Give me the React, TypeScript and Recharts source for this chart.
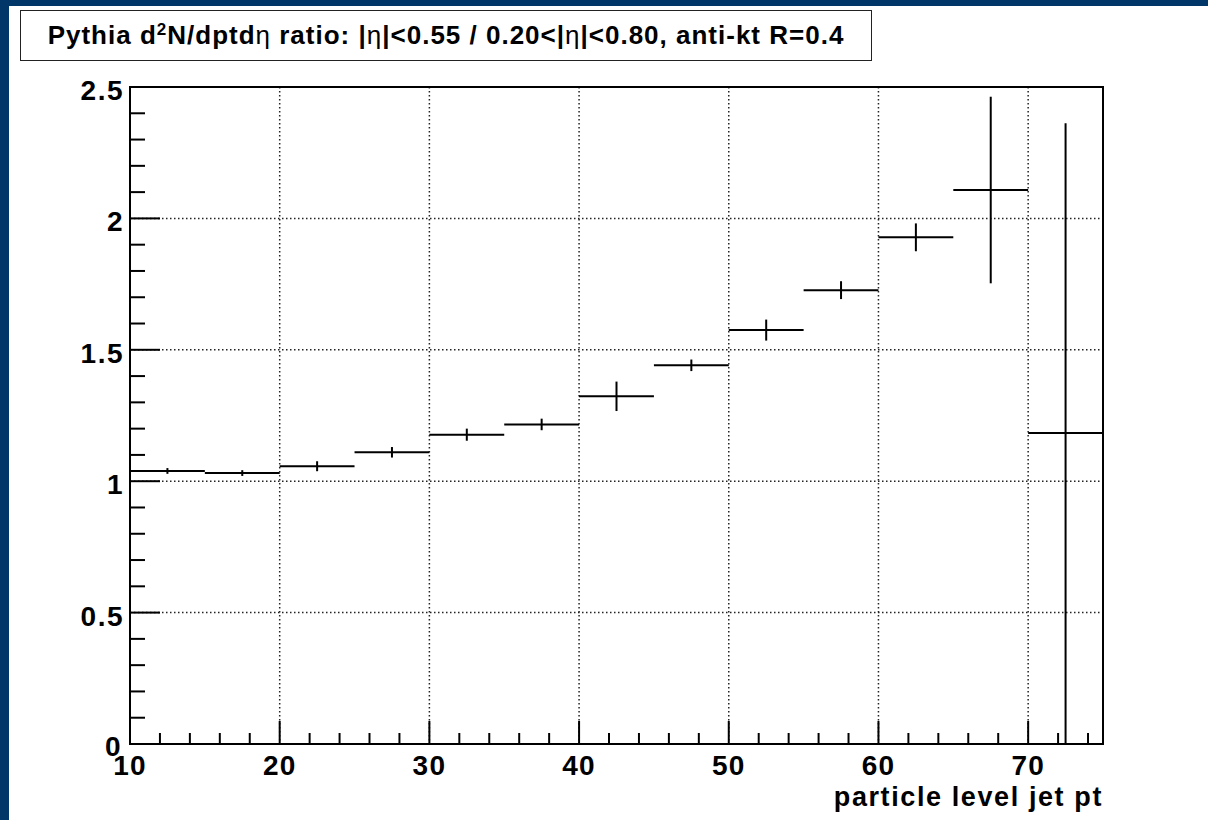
import {
  CartesianGrid,
  ComposedChart,
  ErrorBar,
  ReferenceArea,
  Scatter,
  XAxis,
  YAxis,
} from 'recharts'

// Histogram bin edges in particle level jet pt
const binEdges = [10, 15, 20, 25, 30, 35, 40, 45, 50, 55, 60, 65, 70, 75]
// Ratio per bin and its statistical error
const ratioValues = [
  1.039, 1.031, 1.057, 1.11, 1.177, 1.216, 1.323, 1.441, 1.575, 1.727, 1.928,
  2.108, 1.183,
]
const ratioErrors = [
  0.011, 0.011, 0.019, 0.02, 0.023, 0.022, 0.056, 0.022, 0.04, 0.034, 0.053,
  0.355, 1.179,
]

const xMajorTicks = [10, 20, 30, 40, 50, 60, 70]
const xAllTicks = [
  10, 12, 14, 16, 18, 20, 22, 24, 26, 28, 30, 32, 34, 36, 38, 40, 42, 44, 46,
  48, 50, 52, 54, 56, 58, 60, 62, 64, 66, 68, 70, 72, 74,
]
const yMajorTicks = [0, 0.5, 1, 1.5, 2, 2.5]
const yAllTicks = [
  0, 0.1, 0.2, 0.3, 0.4, 0.5, 0.6, 0.7, 0.8, 0.9, 1, 1.1, 1.2, 1.3, 1.4, 1.5,
  1.6, 1.7, 1.8, 1.9, 2, 2.1, 2.2, 2.3, 2.4, 2.5,
]
const xGridValues = [20, 30, 40, 50, 60, 70]
const yGridValues = [0.5, 1, 1.5, 2]

const points = ratioValues.map((ratio, i) => ({
  pt: (binEdges[i] + binEdges[i + 1]) / 2,
  halfWidth: (binEdges[i + 1] - binEdges[i]) / 2,
  ratio,
  err: ratioErrors[i],
}))

const FONT = '"Liberation Sans", Arial, Helvetica, sans-serif'
const isMajor = (list: number[], v: number) =>
  list.some((m) => Math.abs(m - v) < 1e-6)

function XTick({ x, y, payload }: any) {
  const major = isMajor(xMajorTicks, payload.value)
  return (
    <g>
      <line x1={x} x2={x} y1={y} y2={y - (major ? 23 : 11)} stroke="#000" strokeWidth={2} />
      {major && (
        <text
          x={x}
          y={y + 31}
          textAnchor="middle"
          fontFamily={FONT}
          fontWeight="bold"
          fontSize={28}
          letterSpacing={1.2}
          fill="#000"
        >
          {payload.value}
        </text>
      )}
    </g>
  )
}

function YTick({ x, y, payload }: any) {
  const major = isMajor(yMajorTicks, payload.value)
  // the zero label sits a little lower and to the left, as ROOT draws it
  const isZero = payload.value === 0
  return (
    <g>
      <line x1={x} x2={x + (major ? 30 : 15)} y1={y} y2={y} stroke="#000" strokeWidth={2} />
      {major && (
        <text
          x={x - (isZero ? 8 : 6)}
          y={y + (isZero ? 12 : 13)}
          textAnchor="end"
          fontFamily={FONT}
          fontWeight="bold"
          fontSize={28}
          letterSpacing={1.5}
          fill="#000"
        >
          {payload.value}
        </text>
      )}
    </g>
  )
}

export default function App() {
  return (
    <div
      style={{
        position: 'absolute',
        left: 0,
        top: 0,
        width: 1208,
        height: 820,
        background: '#003768',
        fontFamily: FONT,
      }}
    >
      <div
        style={{
          position: 'absolute',
          left: 9,
          top: 6,
          right: 0,
          bottom: 0,
          background: '#fff',
        }}
      />
      <div
        style={{
          position: 'absolute',
          left: 20,
          top: 10,
          width: 850,
          height: 49,
          border: '1.5px solid #222',
          background: '#fff',
          boxSizing: 'content-box',
          display: 'flex',
          alignItems: 'center',
          justifyContent: 'center',
          fontWeight: 'bold',
          fontSize: 26,
          letterSpacing: 1,
          color: '#000',
          whiteSpace: 'nowrap',
        }}
      >
        <span>
          Pythia d<sup style={{ fontSize: 17, verticalAlign: 9 }}>2</sup>N/dptd
          <span style={{ fontWeight: 400 }}>η</span> ratio: |
          <span style={{ fontWeight: 400 }}>η</span>|&lt;0.55 / 0.20&lt;|
          <span style={{ fontWeight: 400 }}>η</span>|&lt;0.80, anti-kt R=0.4
        </span>
      </div>
      <div style={{ position: 'absolute', left: 0, top: 0 }}>
        <ComposedChart
          width={1208}
          height={820}
          data={points}
          margin={{ top: 87, right: 105, left: 70, bottom: 36 }}
        >
          <CartesianGrid
            stroke="#222"
            strokeWidth={1.5}
            strokeDasharray="1.5 2.5"
            verticalValues={xGridValues}
            horizontalValues={yGridValues}
          />
          <XAxis
            type="number"
            dataKey="pt"
            domain={[10, 75]}
            ticks={xAllTicks}
            interval={0}
            allowDataOverflow
            axisLine={false}
            tickLine={false}
            tickSize={0}
            tickMargin={0}
            height={40}
            tick={<XTick />}
          />
          <YAxis
            type="number"
            dataKey="ratio"
            domain={[0, 2.5]}
            ticks={yAllTicks}
            interval={0}
            allowDataOverflow
            axisLine={false}
            tickLine={false}
            tickSize={0}
            tickMargin={0}
            width={60}
            tick={<YTick />}
          />
          <Scatter
            dataKey="ratio"
            isAnimationActive={false}
            shape={() => <g />}
          >
            <ErrorBar dataKey="halfWidth" direction="x" width={0} stroke="#000" strokeWidth={2} />
            <ErrorBar dataKey="err" direction="y" width={0} stroke="#000" strokeWidth={2} />
          </Scatter>
          <ReferenceArea
            x1={10}
            x2={75}
            y1={0}
            y2={2.5}
            fill="none"
            fillOpacity={0}
            stroke="#000"
            strokeWidth={2}
          />
        </ComposedChart>
      </div>
      <div
        style={{
          position: 'absolute',
          right: 1208 - 1103,
          top: 782,
          fontWeight: 'bold',
          fontSize: 27,
          letterSpacing: 1.6,
          color: '#000',
          whiteSpace: 'nowrap',
        }}
      >
        particle level jet pt
      </div>
    </div>
  )
}
